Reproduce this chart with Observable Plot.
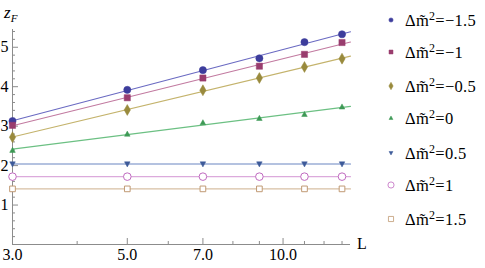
<!DOCTYPE html>
<html>
<head>
<meta charset="utf-8">
<script src="https://cdn.jsdelivr.net/npm/d3@7"></script>
<script src="https://cdn.jsdelivr.net/npm/@observablehq/plot@0.6"></script>
<style>
  html, body { margin: 0; padding: 0; background: #fff; }
  #wrap { position: relative; width: 485px; height: 268px; font-family: "Liberation Serif", serif; }
  #wrap svg { display: block; }
  .ov { position: absolute; font-family: "Liberation Serif", serif; color: #000; white-space: nowrap; line-height: 1; }
  .leg { position: absolute; left: 384px; font-size: 16.5px; font-family: "Liberation Serif", serif; display: flex; align-items: center; white-space: nowrap; }
  .leg svg { margin-right: 7px; }
  .leg span { font-family: "Liberation Serif", serif; letter-spacing: 0.3px; }
</style>
</head>
<body>
<div id="wrap"></div>
<script>
// ---- data ----
const L = [3, 5, 7, 9, 11, 13];
const labels = ["-1.5", "-1", "-0.5", "0", "0.5", "1", "1.5"];
const zm15 = [3.13, 3.92, 4.42, 4.72, 5.13, 5.33];
const zm10 = [3.02, 3.72, 4.22, 4.52, 4.82, 5.12];
const zm05 = [2.72, 3.41, 3.91, 4.22, 4.50, 4.71];
const z00  = [2.39, 2.80, 3.09, 3.20, 3.30, 3.49];
const zp05 = [2.04, 2.04, 2.04, 2.04, 2.04, 2.04];
const zp10 = [1.72, 1.72, 1.72, 1.72, 1.72, 1.72];
const zp15 = [1.41, 1.41, 1.41, 1.41, 1.41, 1.41];
const xMajor = [3, 5, 7, 10];
const xMinor = [4, 6, 8, 9, 11, 12, 13];
const yMajor = [1, 2, 3, 4, 5];
const yMinor = [0.2,0.4,0.6,0.8,1.2,1.4,1.6,1.8,2.2,2.4,2.6,2.8,3.2,3.4,3.6,3.8,4.2,4.4,4.6,4.8,5.2,5.4];

// ---- styles ----
const tri = {draw(c, s) { const r = Math.sqrt(s) / 2.3; c.moveTo(0, -r); c.lineTo(r * 0.95, r * 0.75); c.lineTo(-r * 0.95, r * 0.75); c.closePath(); }};
const triDown = {draw(c, s) { const r = Math.sqrt(s) / 2.3; c.moveTo(0, r); c.lineTo(r * 0.95, -r * 0.75); c.lineTo(-r * 0.95, -r * 0.75); c.closePath(); }};
const series = [
  {label: labels[0], z: zm15, mark: "#3d3d9c", line: "#6a6ac2", symbol: "circle", fill: true, r: 3.6, ls: 14},
  {label: labels[1], z: zm10, mark: "#993d6e", line: "#c27aa0", symbol: "square", fill: true, r: 3.5, ls: 16},
  {label: labels[2], z: zm05, mark: "#998a3d", line: "#c4b36c", symbol: "diamond", fill: true, r: 3.3, ls: 16},
  {label: labels[3], z: z00,  mark: "#3d9955", line: "#6cc083", symbol: tri, fill: true, r: 3.8, ls: 22},
  {label: labels[4], z: zp05, mark: "#3d5a99", line: "#6a86c2", symbol: triDown, fill: true, r: 3.8, ls: 22},
  {label: labels[5], z: zp10, mark: "#c06ac0", line: "#dcaadc", symbol: "circle", fill: false, r: 3.8, ls: 30},
  {label: labels[6], z: zp15, mark: "#c09a74", line: "#d8c0a4", symbol: "square", fill: false, r: 3.2, ls: 26}
];

const xDom = [3, 13.5];
const rows = [];
const fits = [];
series.forEach((s, i) => {
  const pts = L.map((l, j) => ({L: l, z: s.z[j], k: i}));
  rows.push(...pts);
  const xs = pts.map(p => Math.log(p.L)), ys = pts.map(p => p.z);
  const mx = d3.mean(xs), my = d3.mean(ys);
  const b = d3.sum(xs, (x, j) => (x - mx) * (ys[j] - my)) / d3.sum(xs, x => (x - mx) ** 2);
  const a = my - b * mx;
  fits.push(xDom.map(x => ({L: x, z: a + b * Math.log(x), k: i})));
});

const W = 485, H = 268, mt = 29, mb = 24, ml = 12, mr = 135;
const fh = H - mt - mb, fw = W - ml - mr;
const axisColor = "#8c8c8c";

const marks = [
  Plot.ruleY([0], {stroke: axisColor}),
  Plot.ruleX([3], {stroke: axisColor}),
  Plot.ruleX(xMajor, {x: d => d, stroke: axisColor, insetTop: fh - 6}),
  Plot.ruleX(xMinor, {x: d => d, stroke: axisColor, insetTop: fh - 3}),
  Plot.ruleY(yMajor, {y: d => d, stroke: axisColor, insetRight: fw - 6}),
  Plot.ruleY(yMinor, {y: d => d, stroke: axisColor, insetRight: fw - 3}),
  Plot.text(xMajor, {x: d => d, frameAnchor: "bottom", dy: 15, text: d => d.toFixed(1), fontSize: 16, fill: "#000"}),
  Plot.text(yMajor, {y: d => d, frameAnchor: "left", dx: -4, textAnchor: "end", text: d => String(d), fontSize: 16, fill: "#000"})
];
series.forEach((s, i) => {
  marks.push(Plot.line(fits[i], {x: "L", y: "z", stroke: s.line, strokeWidth: 1.1}));
});
series.forEach((s, i) => {
  marks.push(Plot.dot(rows.filter(r => r.k === i), {
    x: "L", y: "z", symbol: () => s.symbol, r: s.r,
    fill: s.fill ? s.mark : "white", stroke: s.mark, strokeWidth: s.fill ? 0.5 : 1
  }));
});

const chart = Plot.plot({
  width: W, height: H,
  marginTop: mt, marginBottom: mb, marginLeft: ml, marginRight: mr,
  x: {type: "log", domain: xDom, axis: null},
  y: {domain: [0, 5.45], axis: null},
  style: {fontFamily: "Liberation Serif, serif", background: "white", overflow: "visible"},
  marks
});
const wrap = document.getElementById("wrap");
wrap.appendChild(chart);

// y label
const yl = document.createElement("div");
yl.className = "ov";
yl.style.left = "4px"; yl.style.top = "4px"; yl.style.fontSize = "17px";
yl.innerHTML = '<i>z</i><sub style="font-size:11px;font-style:italic;vertical-align:-4px">F</sub>';
wrap.appendChild(yl);
// x label
const xl = document.createElement("div");
xl.className = "ov";
xl.style.left = "357px"; xl.style.top = "236px"; xl.style.fontSize = "16px";
xl.textContent = "L";
wrap.appendChild(xl);

// legend
const legY = [20, 52, 86, 118, 153, 185, 219];
const symMap = {circle: d3.symbolCircle, square: d3.symbolSquare, diamond: d3.symbolDiamond};
series.forEach((s, i) => {
  const d = document.createElement("div");
  d.className = "leg";
  d.style.top = (legY[i] - 10) + "px";
  d.style.height = "20px";
  const sym = d3.create("svg").attr("width", 14).attr("height", 14);
  const p = d3.symbol(typeof s.symbol === "string" ? symMap[s.symbol] : s.symbol, s.ls)();
  sym.append("path").attr("d", p).attr("transform", "translate(7,7)")
    .attr("fill", s.fill ? s.mark : "white").attr("stroke", s.mark).attr("stroke-width", s.fill ? 0.5 : 0.8);
  d.appendChild(sym.node());
  const t = document.createElement("span");
  t.innerHTML = "\u0394m\u0303<sup style='font-size:12px;vertical-align:6px'>2</sup>=" + s.label.replace("-", "\u2212");
  d.appendChild(t);
  wrap.appendChild(d);
});
</script>
</body>
</html>
